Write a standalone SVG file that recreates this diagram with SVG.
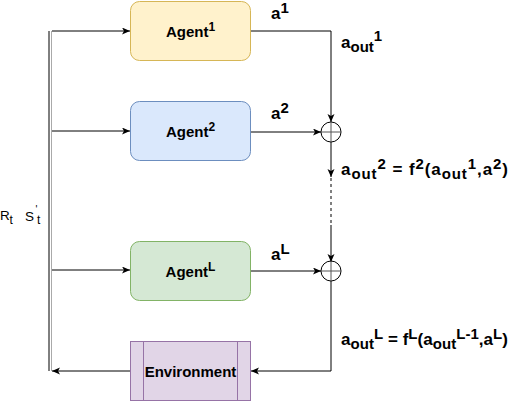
<svg xmlns="http://www.w3.org/2000/svg" width="510" height="402" viewBox="0 0 510 402">
<defs>
<marker id="arr" markerUnits="userSpaceOnUse" markerWidth="9" markerHeight="8" refX="8" refY="3.5" orient="auto">
<path d="M0,0 L8,3.5 L0,7 L2,3.5 z" fill="#000"/>
</marker>
<style>
.lbl{font-family:"Liberation Sans",Arial,sans-serif;font-weight:bold;font-size:15px;fill:#000}
.eq{font-family:"Liberation Sans",Arial,sans-serif;font-weight:bold;font-size:17px;fill:#000}
.sm{font-size:12px}
.es{font-size:15px}
.ln{fill:none;stroke:#000;stroke-width:1}
.t{font-family:"Liberation Sans",Arial,sans-serif;font-size:13.5px;fill:#000}
</style>
</defs>
<rect width="510" height="402" fill="#fff"/>
<g id="connectors">
<line x1="49" y1="31" x2="49" y2="371" class="ln"/>
<line x1="51.5" y1="31" x2="51.5" y2="371" stroke="#aaa" stroke-width="1"/>
<line x1="52" y1="31" x2="130" y2="31" class="ln" marker-end="url(#arr)"/>
<line x1="52" y1="131" x2="130" y2="131" class="ln" marker-end="url(#arr)"/>
<line x1="52" y1="270" x2="130" y2="270" class="ln" marker-end="url(#arr)"/>
<line x1="130" y1="371" x2="52" y2="371" class="ln" marker-end="url(#arr)"/>
<path d="M251,31 H331 V122" class="ln" marker-end="url(#arr)"/>
<line x1="251" y1="132" x2="321" y2="132" class="ln" marker-end="url(#arr)"/>
<line x1="331" y1="142" x2="331" y2="177" class="ln" marker-end="url(#arr)"/>
<line x1="331" y1="178" x2="331" y2="225" class="ln" stroke-dasharray="3,3"/>
<line x1="331" y1="225" x2="331" y2="262" class="ln" marker-end="url(#arr)"/>
<line x1="251" y1="271" x2="321" y2="271" class="ln" marker-end="url(#arr)"/>
<path d="M331,281 V371 H251" class="ln" marker-end="url(#arr)"/>
</g>
<g id="sum1">
<circle cx="331" cy="132" r="10" fill="none" stroke="#000"/>
<path d="M321,132 H341 M331,122 V142" stroke="#555" fill="none"/>
</g>
<g id="sumL">
<circle cx="331" cy="271" r="10" fill="none" stroke="#000"/>
<path d="M321,271 H341 M331,261 V281" stroke="#555" fill="none"/>
</g>
<g id="agent1">
<rect x="130.5" y="1.5" width="120" height="59" rx="9" fill="#fff2cc" stroke="#d6b656"/>
<text x="190.5" y="37" text-anchor="middle" class="lbl">Agent<tspan class="sm" dy="-6">1</tspan></text>
</g>
<g id="agent2">
<rect x="130.5" y="101.5" width="120" height="59" rx="9" fill="#dae8fc" stroke="#6c8ebf"/>
<text x="190.5" y="137" text-anchor="middle" class="lbl">Agent<tspan class="sm" dy="-6">2</tspan></text>
</g>
<g id="agentL">
<rect x="130.5" y="241.5" width="120" height="59" rx="9" fill="#d5e8d4" stroke="#82b366"/>
<text x="190.5" y="277" text-anchor="middle" class="lbl">Agent<tspan class="sm" dy="-6">L</tspan></text>
</g>
<g id="environment">
<rect x="130.5" y="341.5" width="120" height="59" fill="#e1d5e7" stroke="#9673a6"/>
<path d="M143.5,341.5 V400.5 M237.5,341.5 V400.5" stroke="#9673a6" fill="none"/>
<text x="190.5" y="377" text-anchor="middle" class="lbl">Environment</text>
</g>
<g id="labels">
<text x="271" y="19" class="eq">a<tspan class="es" dy="-6">1</tspan></text>
<text x="341" y="48" class="eq">a<tspan class="es" dy="4">out</tspan><tspan class="es" dy="-11">1</tspan></text>
<text x="271" y="119" class="eq">a<tspan class="es" dy="-6">2</tspan></text>
<text x="341" y="175" class="eq" textLength="167" lengthAdjust="spacing">a<tspan class="es" dy="4">out</tspan><tspan class="es" dy="-10">2</tspan><tspan dy="6"> = f</tspan><tspan class="es" dy="-6">2</tspan><tspan dy="6">(a</tspan><tspan class="es" dy="4">out</tspan><tspan class="es" dy="-10">1</tspan><tspan dy="6">,a</tspan><tspan class="es" dy="-6">2</tspan><tspan dy="6">)</tspan></text>
<text x="271" y="260" class="eq">a<tspan class="es" dy="-6">L</tspan></text>
<text x="341" y="345" class="eq" textLength="167" lengthAdjust="spacing">a<tspan class="es" dy="4">out</tspan><tspan class="es" dy="-10">L</tspan><tspan dy="6"> = f</tspan><tspan class="es" dy="-6">L</tspan><tspan dy="6">(a</tspan><tspan class="es" dy="4">out</tspan><tspan class="es" dy="-10">L-1</tspan><tspan dy="6">,a</tspan><tspan class="es" dy="-6">L</tspan><tspan dy="6">)</tspan></text>
<text class="t"><tspan x="0" y="220">R</tspan><tspan x="9.5" y="223.5" font-size="12">t</tspan><tspan x="25" y="220.5">S</tspan><tspan x="35.5" y="213" font-size="10">'</tspan><tspan x="37" y="224" font-size="12">t</tspan></text>
</g>
</svg>
